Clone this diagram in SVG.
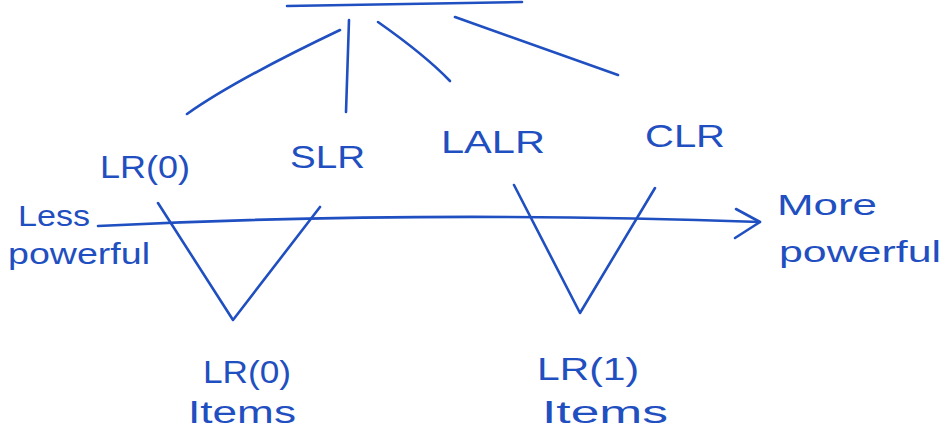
<svg xmlns="http://www.w3.org/2000/svg" width="945" height="436" viewBox="0 0 945 436">
<style>
.ln{fill:none;stroke:#1f4fc0;stroke-width:2.6;stroke-linecap:round;stroke-linejoin:round}
.t{font-family:"Liberation Sans",Arial,sans-serif;font-size:31px;fill:#1f4fc0}
.s{font-family:"Liberation Sans",Arial,sans-serif;font-size:29px;fill:#1f4fc0}
</style>
<rect width="945" height="436" fill="#fff"/>
<g id="connectors">
<path class="ln" d="M287,6 L522,2"/>
<path class="ln" d="M340,30 Q235,80 187,114"/>
<path class="ln" d="M349,20 L346,112"/>
<path class="ln" d="M378,22 Q425,55 450,81"/>
<path class="ln" d="M455,17 L618,75"/>
<path class="ln" d="M98,226 Q420,210 760,222"/>
<path class="ln" d="M736,209 L760,222 L735,238"/>
<path class="ln" d="M158,203 L233,320 L320,207"/>
<path class="ln" d="M514,185 L580,313 L655,188"/>
</g>
<g id="lr0"><text class="t" x="100" y="178" textLength="90" lengthAdjust="spacingAndGlyphs">LR(0)</text></g>
<g id="slr"><text class="t" x="290" y="168" textLength="75" lengthAdjust="spacingAndGlyphs">SLR</text></g>
<g id="lalr"><text class="t" x="441" y="153" textLength="104" lengthAdjust="spacingAndGlyphs">LALR</text></g>
<g id="clr"><text class="t" x="645" y="147" textLength="80" lengthAdjust="spacingAndGlyphs">CLR</text></g>
<g id="less"><text class="s" x="18" y="226" textLength="72" lengthAdjust="spacingAndGlyphs">Less</text><text class="s" x="8" y="264" textLength="142" lengthAdjust="spacingAndGlyphs">powerful</text></g>
<g id="more"><text class="s" x="777" y="215" textLength="100" lengthAdjust="spacingAndGlyphs">More</text><text class="s" x="779" y="262" textLength="162" lengthAdjust="spacingAndGlyphs">powerful</text></g>
<g id="lr0items"><text class="t" x="203" y="383" textLength="88" lengthAdjust="spacingAndGlyphs">LR(0)</text><text class="t" x="188" y="423" textLength="108" lengthAdjust="spacingAndGlyphs">Items</text></g>
<g id="lr1items"><text class="t" x="537" y="380" textLength="102" lengthAdjust="spacingAndGlyphs">LR(1)</text><text class="t" x="542" y="423" textLength="126" lengthAdjust="spacingAndGlyphs">Items</text></g>
</svg>
